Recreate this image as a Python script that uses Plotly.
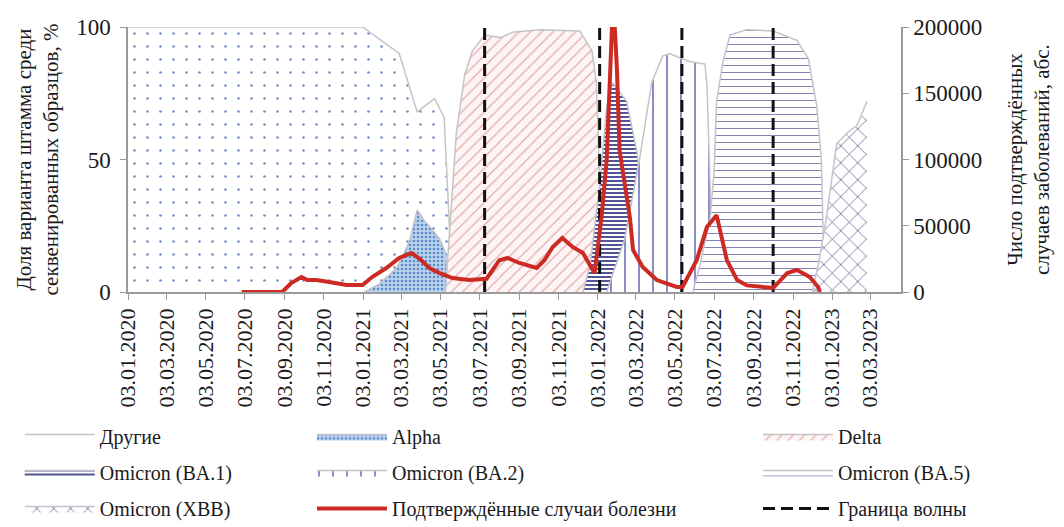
import plotly.graph_objects as go

# ---------------- data ----------------
others_dates = ["2020-01-03", "2021-01-02", "2021-02-28", "2021-03-28", "2021-04-24", "2021-05-09", "2021-05-22"]
others_vals = [100, 100, 90, 68, 73, 66, 0]

alpha_dates = ["2021-01-05", "2021-01-28", "2021-02-24", "2021-03-16", "2021-03-28", "2021-04-08",
               "2021-04-19", "2021-05-02", "2021-05-11", "2021-05-16"]
alpha_vals = [0, 3, 9, 19, 31, 27, 24, 20, 15, 0]

delta_dates = ["2021-05-11", "2021-05-20", "2021-05-28", "2021-06-10", "2021-06-22", "2021-07-11",
               "2021-08-05", "2021-08-23", "2021-10-05", "2021-12-06", "2021-12-25", "2022-01-01",
               "2022-01-06", "2022-01-12"]
delta_vals = [0, 30, 60, 82, 91, 97, 96, 98, 99, 98.5, 91, 79, 40, 0]

ba1_dates = ["2021-12-11", "2021-12-22", "2022-01-06", "2022-01-17", "2022-01-26", "2022-02-17",
             "2022-03-05", "2022-03-17", "2022-04-02", "2022-04-17"]
ba1_vals = [0, 10, 40, 70, 79, 72, 53, 30, 10, 0]

ba2_dates = ["2022-01-17", "2022-02-14", "2022-03-09", "2022-03-28", "2022-04-14", "2022-04-25",
             "2022-05-14", "2022-05-26", "2022-06-19", "2022-06-22", "2022-06-27", "2022-07-01"]
ba2_vals = [0, 20, 50, 79, 89, 90, 88, 87, 86, 78, 40, 0]

ba5_dates = ["2022-05-31", "2022-06-11", "2022-06-27", "2022-07-03", "2022-07-07", "2022-07-17",
             "2022-07-28", "2022-08-23", "2022-10-03", "2022-11-09", "2022-11-27", "2022-12-10",
             "2022-12-17", "2022-12-20", "2022-12-22"]
ba5_vals = [0, 10, 28, 45, 72, 87, 97, 99, 98.5, 95, 88, 70, 50, 25, 0]

xbb_dates = ["2022-12-03", "2022-12-12", "2022-12-23", "2023-01-01", "2023-01-10", "2023-01-26",
             "2023-02-11", "2023-02-26"]
xbb_vals = [0, 10, 25, 40, 56, 60, 63, 72]

cases_dates = ["2020-06-28", "2020-08-30", "2020-09-13", "2020-09-29", "2020-10-08", "2020-10-22",
               "2020-11-11", "2020-12-08", "2021-01-02", "2021-01-17", "2021-02-08", "2021-02-28",
               "2021-03-19", "2021-04-01", "2021-04-16", "2021-05-02", "2021-05-22", "2021-06-17",
               "2021-07-14", "2021-08-03", "2021-08-16", "2021-09-03", "2021-09-30", "2021-10-12",
               "2021-10-25", "2021-11-09", "2021-11-25", "2021-12-11", "2021-12-29", "2022-01-09",
               "2022-01-17", "2022-01-22", "2022-01-26", "2022-01-29", "2022-02-02", "2022-02-06",
               "2022-02-22", "2022-02-27", "2022-03-14", "2022-04-05", "2022-05-06", "2022-05-15",
               "2022-06-06", "2022-06-22", "2022-07-07", "2022-07-23", "2022-08-08", "2022-08-23",
               "2022-09-12", "2022-10-03", "2022-10-25", "2022-11-09", "2022-11-29", "2022-12-12",
               "2022-12-15"]
cases_vals = [0, 0, 6800, 11300, 9000, 9000,
              7500, 5300, 5300, 11300, 18100, 25700,
              29400, 25000, 18100, 14300, 10500, 9000,
              10000, 24000, 25700, 21900, 18100, 24000,
              34000, 40800, 34000, 29400, 14300, 56600,
              100000, 182000, 210000, 205000, 167000, 107000,
              56600, 31700, 18900, 9000, 3800, 3800,
              24000, 49000, 58000, 24000, 9000, 5000,
              3800, 3000, 14300, 16600, 11300, 3800,
              0]

wave_dates = ["2021-07-11", "2022-01-06", "2022-05-14", "2022-10-03"]

tick_dates = ["2020-01-03", "2020-03-03", "2020-05-03", "2020-07-03", "2020-09-03", "2020-11-03",
              "2021-01-03", "2021-03-03", "2021-05-03", "2021-07-03", "2021-09-03", "2021-11-03",
              "2022-01-03", "2022-03-03", "2022-05-03", "2022-07-03", "2022-09-03", "2022-11-03",
              "2023-01-03", "2023-03-03"]
tick_labels = ["03.01.2020", "03.03.2020", "03.05.2020", "03.07.2020", "03.09.2020", "03.11.2020",
               "03.01.2021", "03.03.2021", "03.05.2021", "03.07.2021", "03.09.2021", "03.11.2021",
               "03.01.2022", "03.03.2022", "03.05.2022", "03.07.2022", "03.09.2022", "03.11.2022",
               "03.01.2023", "03.03.2023"]

y_ticks = [0, 50, 100]
y2_ticks = [0, 50000, 100000, 150000, 200000]
y2_labels = ["0", "50000", "100000", "150000", "200000"]

names = ["Другие", "Alpha", "Delta", "Omicron (BA.1)", "Omicron (BA.2)", "Omicron (BA.5)", "Omicron (XBB)"]
cases_name = "Подтверждённые случаи болезни"
wave_name = "Граница волны"

# ---------------- figure ----------------
FONT = "Liberation Serif"
OUTLINE = "#c4c4c8"
AXIS = "#9a9a9a"
TXT = "#1a1a1a"

area_specs = [
    (others_dates, others_vals, dict(shape=".", fgcolor="#6f8cc4", bgcolor="white", size=13, solidity=0.03), "legend", "g1"),
    (alpha_dates, alpha_vals, dict(shape=".", fgcolor="#5a8cc8", bgcolor="#b9d3ee", size=4, solidity=0.3), "legend2", "g2"),
    (delta_dates, delta_vals, dict(shape="/", fgcolor="#e6a9a9", bgcolor="#fdf5f5", size=8, solidity=0.15), "legend3", "g3"),
    (ba1_dates, ba1_vals, dict(shape="-", fgcolor="#3f3f8c", bgcolor="white", size=4, solidity=0.45), "legend", "g4"),
    (ba2_dates, ba2_vals, dict(shape="|", fgcolor="#4848a6", bgcolor="white", size=14, solidity=0.09), "legend2", "g5"),
    (ba5_dates, ba5_vals, dict(shape="-", fgcolor="#8080b4", bgcolor="white", size=7, solidity=0.14), "legend3", "g6"),
    (xbb_dates, xbb_vals, dict(shape="x", fgcolor="#5a5a8e", bgcolor="white", size=12, solidity=0.12), "legend", "g7"),
]

fig = go.Figure()
for (dx, dy, pat, leg, grp), nm in zip(area_specs, names):
    fig.add_trace(go.Scatter(
        x=dx, y=dy, name=nm, mode="lines",
        line=dict(color=OUTLINE, width=1.5),
        fill="tozeroy", fillcolor=pat["bgcolor"],
        fillpattern=dict(fillmode="replace", **pat),
        legend=leg, legendgroup=grp, yaxis="y",
    ))

fig.add_trace(go.Scatter(
    x=cases_dates, y=cases_vals, name=cases_name, mode="lines",
    line=dict(color="#cc2a22", width=4),
    yaxis="y2", legend="legend2", legendgroup="g8",
))

wx, wy = [], []
for d in wave_dates:
    wx += [d, d, None]
    wy += [0, 100, None]
fig.add_trace(go.Scatter(
    x=wx, y=wy, name=wave_name, mode="lines",
    line=dict(color="#111111", width=3, dash="12px,6px"),
    yaxis="y", legend="legend3", legendgroup="g9",
))

leg_common = dict(orientation="v", yanchor="top", xanchor="left", y=-0.4717,
                  font=dict(family=FONT, size=20, color=TXT),
                  bgcolor="rgba(0,0,0,0)", tracegroupgap=7, traceorder="grouped",
                  itemwidth=70)

fig.update_layout(
    width=1056, height=519,
    margin=dict(l=120, r=163, t=19, b=235, autoexpand=False),
    paper_bgcolor="white", plot_bgcolor="white",
    font=dict(family=FONT, size=20, color=TXT),
    xaxis=dict(
        type="date", range=["2020-01-03", "2023-04-20"],
        tickmode="array", tickvals=tick_dates, ticktext=tick_labels,
        tickangle=-90, ticks="outside", ticklen=6, tickcolor=AXIS,
        showline=True, linecolor=AXIS, linewidth=1.5,
        showgrid=False, zeroline=False, automargin=False,
        ticklabelstandoff=0,
        tickfont=dict(family=FONT, size=22, color=TXT),
    ),
    yaxis=dict(
        range=[0, 100], tickmode="array", tickvals=y_ticks, ticks="outside", ticklen=6,
        tickcolor=AXIS, showline=True, linecolor=AXIS, linewidth=1.5,
        showgrid=False, zeroline=False, automargin=False,
        ticklabelstandoff=5,
        title=dict(text="Доля варианта штамма среди<br>секвенированных образцов, %",
                   standoff=12, font=dict(family=FONT, size=21, color=TXT)),
        tickfont=dict(family=FONT, size=23, color=TXT),
    ),
    yaxis2=dict(
        range=[0, 200000], tickmode="array", tickvals=y2_ticks, ticktext=y2_labels,
        overlaying="y", side="right", anchor="x",
        ticks="outside", ticklen=6, tickcolor=AXIS,
        showline=True, linecolor=AXIS, linewidth=1.5,
        showgrid=False, zeroline=False, automargin=False,
        title=dict(text="Число подтверждённых<br>случаев заболеваний, абс.",
                   standoff=26, font=dict(family=FONT, size=21, color=TXT)),
        tickfont=dict(family=FONT, size=23, color=TXT),
    ),
    legend=dict(x=-0.14, **leg_common),
    legend2=dict(x=0.238, **leg_common),
    legend3=dict(x=0.815, **leg_common),
)

fig.write_html("out.html")
